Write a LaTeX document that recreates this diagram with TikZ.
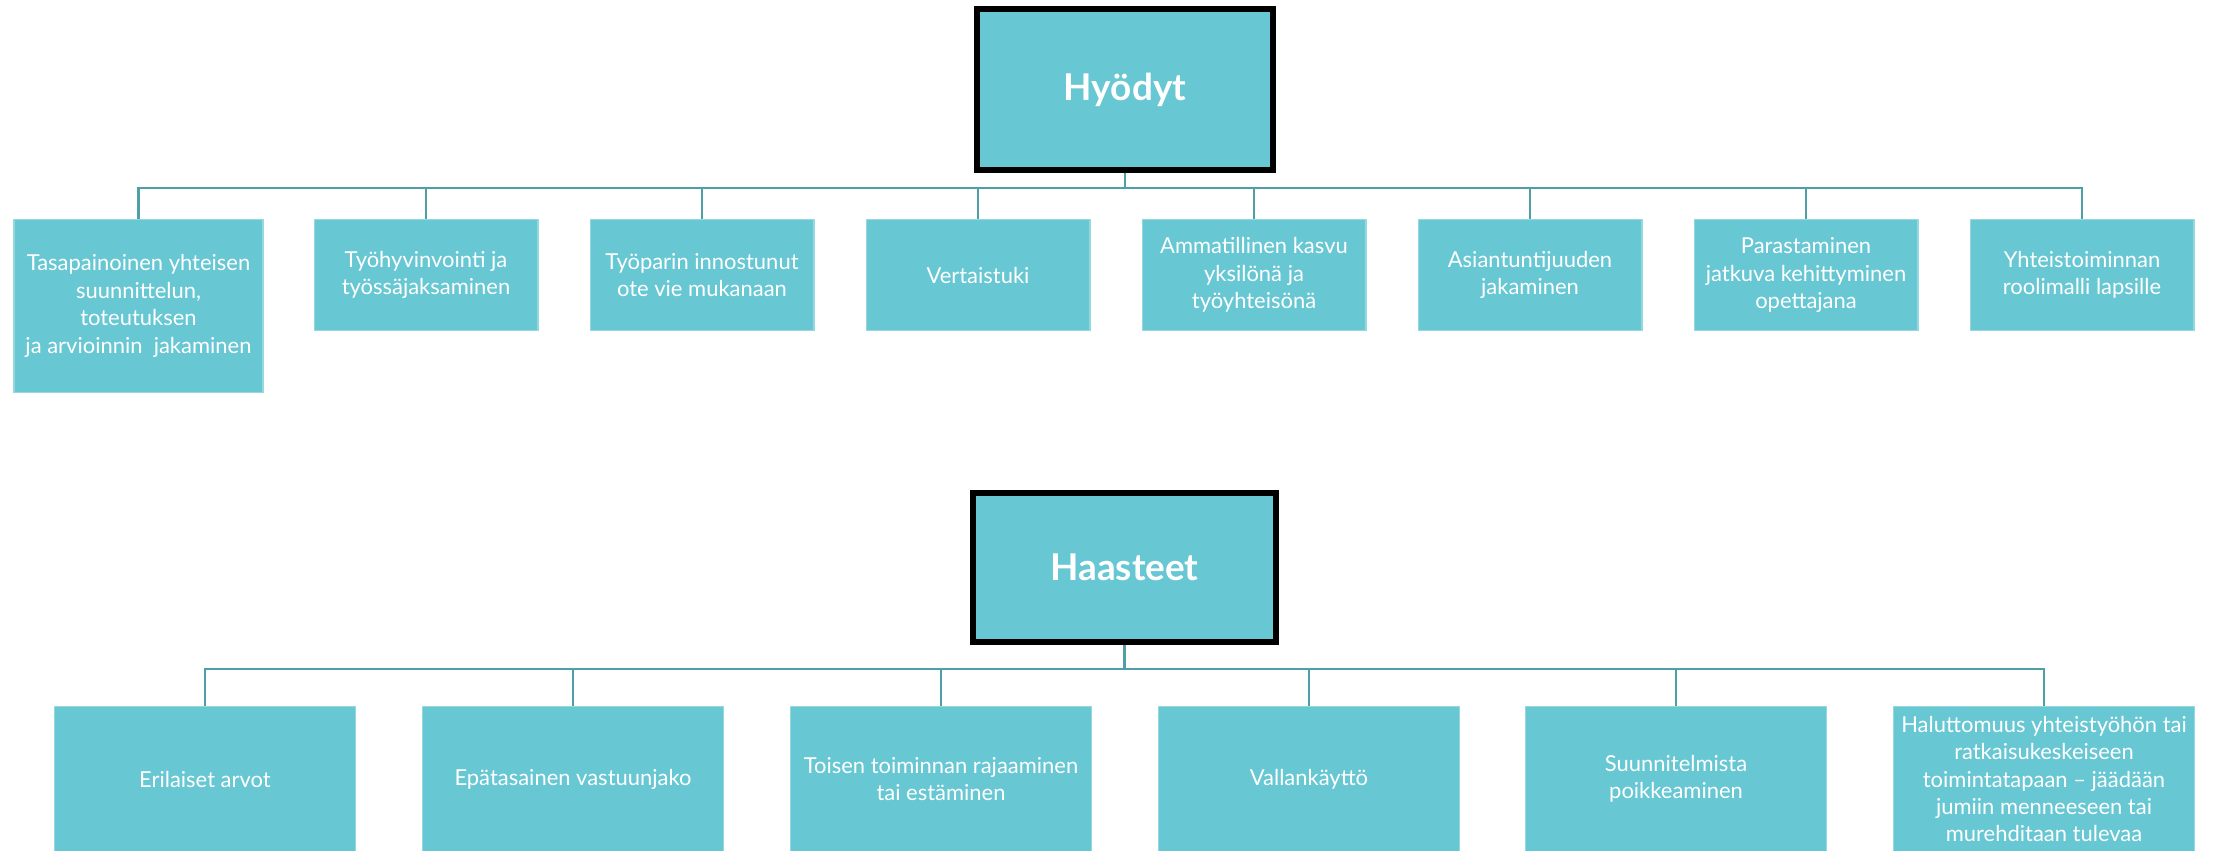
\documentclass[tikz,border=0pt]{standalone}
\usepackage{fontspec}
\setmainfont{Lato}
\usepackage{tikz}
\usetikzlibrary{positioning}

\definecolor{boxteal}{HTML}{67C7D3}
\definecolor{lineteal}{HTML}{4E9FA8}

\begin{document}
\begin{tikzpicture}[x=0.02cm,y=-0.02cm,
mainbox/.style={draw=black,line width=3.4pt,fill=boxteal,text=white,
    font=\fontsize{21}{25}\selectfont\bfseries},
item/.style={fill=boxteal,draw=boxteal!70!white,line width=0.6pt,text=white,
    anchor=north,align=center,inner sep=1pt,
    font=\fontsize{12.5}{15.6}\selectfont},
hyo/.style={item,minimum width=4.48cm,minimum height=2.22cm},
haa/.style={item,minimum width=6.02cm,minimum height=2.9cm},
conn/.style={draw=lineteal,line width=1.3pt}]
\useasboundingbox (0,0) rectangle (2213,851);

% hyodyt
\node (hyodyt) [mainbox,minimum width=5.92cm,minimum height=3.22cm] at (1125,89.5) {Hyödyt};
\coordinate (hbus) at (1125,188);

\node (h1) [item,minimum width=4.98cm,minimum height=3.46cm] at (138.5,219)
    {Tasapainoinen yhteisen\\suunnittelun,\\toteutuksen\\ja arvioinnin~~jakaminen};
\node (h2) [hyo] at (426,219) {Työhyvinvointi ja\\työssäjaksaminen};
\node (h3) [hyo] at (702,219) {Työparin innostunut\\ote vie mukanaan};
\node (h4) [hyo] at (978,219) {Vertaistuki};
\node (h5) [hyo] at (1254,219) {Ammatillinen kasvu\\yksilönä ja\\työyhteisönä};
\node (h6) [hyo] at (1530,219) {Asiantuntijuuden\\jakaminen};
\node (h7) [hyo] at (1806,219) {Parastaminen\\jatkuva kehittyminen\\opettajana};
\node (h8) [hyo] at (2082,219) {Yhteistoiminnan\\roolimalli lapsille};

\foreach \c in {h1,h2,h3,h4,h5,h6,h7,h8}
    \draw[conn] (hyodyt.south) -- (hyodyt.south |- hbus) -| (\c.north);

% haasteet
\node (haasteet) [mainbox,minimum width=6.06cm,minimum height=2.98cm] at (1124.5,567.5) {Haasteet};
\coordinate (cbus) at (1124.5,669);

\node (c1) [haa] at (205,706) {Erilaiset arvot};
\node (c2) [haa] at (573,706) {Epätasainen vastuunjako};
\node (c3) [haa] at (941,706) {Toisen toiminnan rajaaminen\\tai estäminen};
\node (c4) [haa] at (1309,706) {Vallankäyttö};
\node (c5) [haa] at (1676,706) {Suunnitelmista\\poikkeaminen};
\node (c6) [haa] at (2044,706) {Haluttomuus yhteistyöhön tai\\ratkaisukeskeiseen\\toimintatapaan – jäädään\\jumiin menneeseen tai\\murehditaan tulevaa};

\foreach \c in {c1,c2,c3,c4,c5,c6}
    \draw[conn] (haasteet.south) -- (haasteet.south |- cbus) -| (\c.north);

\end{tikzpicture}
\end{document}
